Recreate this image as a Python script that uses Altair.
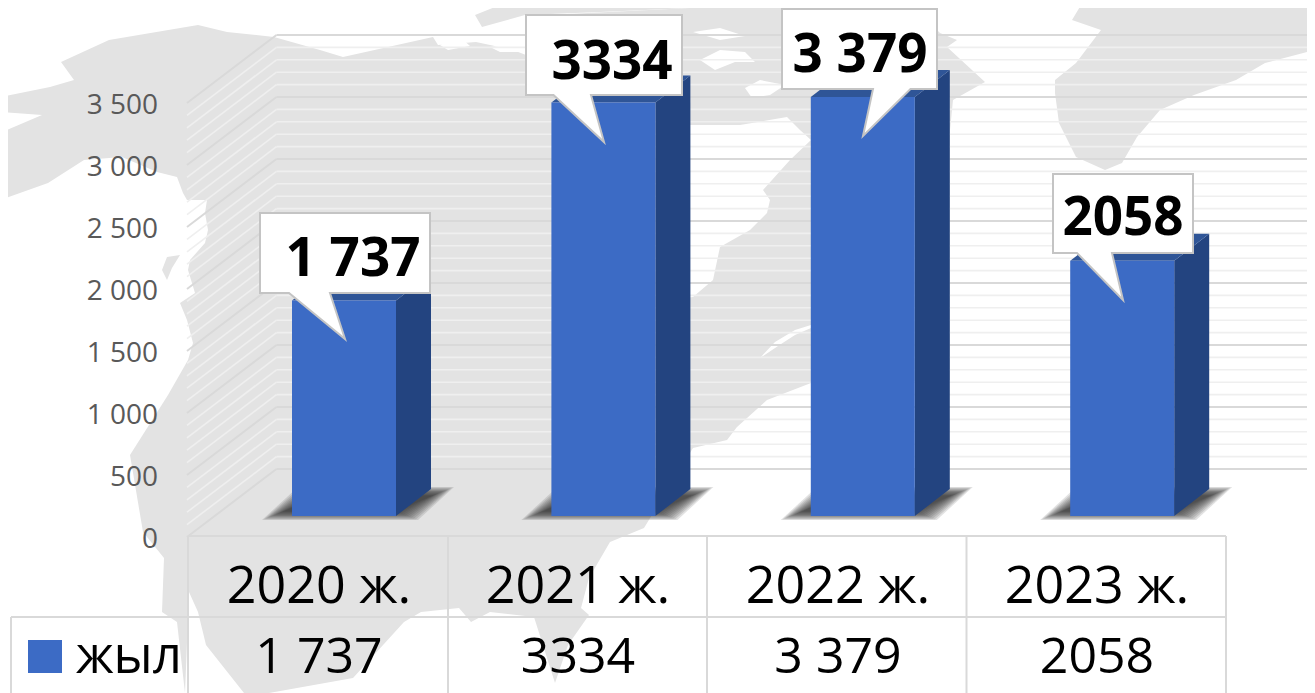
import altair as alt
import pandas as pd

years = ["2020 ж.", "2021 ж.", "2022 ж.", "2023 ж."]
values = [1737, 3334, 3379, 2058]
value_labels = ["1 737", "3334", "3 379", "2058"]
axis_values = [0, 500, 1000, 1500, 2000, 2500, 3000, 3500]
axis_labels = ["0", "500", "1 000", "1 500", "2 000", "2 500", "3 000", "3 500"]
minor_values = list(range(0, 3600, 100))

W, H = 1299, 685
SLOT, X0, UNIT, BASE = 259.4, 188.0, 0.124, 516.0


def U(px):
    return (px - X0) / SLOT


def V(py):
    return (BASE - py) / UNIT


xs = alt.Scale(domain=[U(8), U(8 + W)], range=[0, W], nice=False, zero=False)
ys = alt.Scale(domain=[V(8 + H), V(8)], range=[H, 0], nice=False, zero=False)
X = lambda f: alt.X(f, type="quantitative", scale=xs, axis=None, title=None)
X2 = lambda f: alt.X2(f)
Y = lambda f: alt.Y(f, type="quantitative", scale=ys, axis=None, title=None)
Y2 = lambda f: alt.Y2(f)

BAR_OFF, BAR_W = U(292), 104 / SLOT
DX, DV = 35 / SLOT, 27 / UNIT
BACK_DV, FRONT_DV = (BASE - 469) / UNIT, (BASE - 537) / UNIT
BACK_X, FRONT_X = U(276.5), U(187)

bars = pd.DataFrame({
    "x0": [BAR_OFF + i for i in range(4)],
    "x1": [BAR_OFF + i + BAR_W for i in range(4)],
    "v": values,
    "zero": [0] * 4,
})

side, top, shadow = [], [], []
SHADOW_STEPS = [5, 4, 3, 2, 1, 0, -1, -2, -3, -4, -5, -6]
for i, r in bars.iterrows():
    side += [
        {"b": i, "x": r.x1, "y": r.v, "y2": 0},
        {"b": i, "x": r.x1 + DX, "y": r.v + DV, "y2": DV},
    ]
    t = r.v
    top += [
        {"b": i, "x": r.x0, "y": t, "y2": t},
        {"b": i, "x": r.x0 + DX, "y": t + DV, "y2": t},
        {"b": i, "x": r.x1, "y": t + DV, "y2": t},
        {"b": i, "x": r.x1 + DX, "y": t + DV, "y2": t + DV},
    ]
    for lvl, g in enumerate(SHADOW_STEPS):
        lo, hi = V(516 + g * 0.8), V(491 - g * 0.8)
        left, right = r.x0 - (20 + g * 2) / SLOT, r.x1 + (12 + g * 2) / SLOT
        shift = 36 / SLOT
        shadow += [
            {"b": i, "l": lvl, "x": left, "y": lo, "y2": lo},
            {"b": i, "l": lvl, "x": left + shift, "y": hi, "y2": lo},
            {"b": i, "l": lvl, "x": right, "y": hi, "y2": lo},
            {"b": i, "l": lvl, "x": right + shift, "y": hi, "y2": hi},
        ]
side, top, shadow = pd.DataFrame(side), pd.DataFrame(top), pd.DataFrame(shadow)


def poly(pts):
    p = [[a - 8, b - 8] for a, b in pts]
    if p[0] != p[-1]:
        p.append(p[0])
    return {"type": "Feature", "properties": {}, "geometry": {"type": "Polygon", "coordinates": [p]}}


PROJ = dict(type="identity", scale=1, translate=[0, 0])

# background world-map silhouettes, in page pixels
map_main = [
    (0, 97), (50, 87), (74, 80), (61, 62), (109, 40), (198, 25), (227, 32), (274, 37), (320, 50), (343, 57),
    (433, 37), (438, 45), (476, 42), (513, 50), (526, 55), (526, 16), (690, 8), (720, 2), (823, 0), (907, 0),
    (940, 33), (957, 40), (947, 47), (985, 82), (953, 100), (950, 130), (950, 380), (811, 383), (767, 400), (737, 427),
    (727, 440), (693, 448), (644, 528), (610, 542), (589, 578), (581, 608), (589, 615), (568, 645), (555, 683), (534, 617),
    (490, 612), (471, 622), (459, 608), (421, 612), (404, 622), (353, 678),
    (269, 693), (244, 693), (206, 645), (198, 612), (189, 592), (185, 693), (177, 622), (162, 612), (164, 558), (143, 532),
    (130, 455), (168, 395), (188, 360), (193, 343), (187, 320), (180, 303), (195, 293), (188, 270), (190, 260), (205, 243),
    (208, 230), (205, 213), (207, 200), (187, 200), (183, 193), (177, 177), (157, 172),
    (122, 157), (84, 160), (48, 183), (0, 200), (0, 133), (42, 115), (0, 112),
]
map_top = [(475, 15), (505, 3), (588, 0), (680, 0), (690, 8), (600, 12), (525, 15), (482, 27)]
map_isle = [(162, 270), (167, 257), (180, 255), (172, 268), (167, 280)]
map_right = [
    (1084, 0), (1072, 20), (1101, 30), (1076, 63), (1055, 80), (1055, 93), (1059, 123), (1076, 157), (1105, 170), (1122, 163),
    (1137, 137), (1160, 110), (1194, 95), (1236, 80), (1265, 63), (1315, 50), (1315, 0),
]
sea = [
    (670, 125), (740, 125), (787, 117), (800, 130), (811, 140), (790, 160), (763, 190), (770, 200), (767, 213), (750, 230),
    (720, 247), (713, 280), (693, 297), (670, 300),
]
streaks = [
    [(760, 358), (775, 342), (795, 330), (811, 325), (811, 328), (795, 335), (778, 346)],
    [(700, 60), (720, 50), (745, 52), (755, 62), (735, 62), (715, 70)],
    [(745, 88), (760, 80), (785, 85), (770, 95), (752, 98)],
    [(693, 32), (720, 28), (745, 36), (720, 40)],
    [(440, 45), (460, 37), (470, 46), (448, 50)],
    [(490, 47), (525, 43), (525, 52), (500, 52)],
]
map_layer = alt.Chart(alt.Data(values=[poly(map_main), poly(map_top), poly(map_right), poly(map_isle)])).mark_geoshape(fill="#e3e3e3").project(**PROJ)
sea_layer = alt.Chart(alt.Data(values=[poly(sea)] + [poly(s) for s in streaks])).mark_geoshape(fill="white").project(**PROJ)

callouts = [
    [(260, 213), (430, 213), (430, 293), (330, 293), (345, 339), (289, 293), (260, 293)],
    [(526, 15), (682, 15), (682, 95), (591, 95), (604, 142), (553.5, 95), (526, 95)],
    [(782, 9), (937, 9), (937, 89), (910.5, 89), (863, 136), (873, 89), (782, 89)],
    [(1053, 174), (1193, 174), (1193, 253), (1112, 253), (1123, 300), (1077, 253), (1053, 253)],
]
call_layer = (
    alt.Chart(alt.Data(values=[poly(c) for c in callouts]))
    .mark_geoshape(fill="white", stroke="#c4c4c4", strokeWidth=2)
    .project(**PROJ)
)

# grids
grid = pd.DataFrame({"v": minor_values})
grid["major"] = grid.v % 500 == 0
grid["x0"], grid["x1"], grid["y"] = BACK_X, U(8 + W), grid.v + BACK_DV
wall = []
for v, mj in zip(grid.v, grid.major):
    wall += [
        {"v": v, "major": bool(mj), "x": FRONT_X, "y": v + FRONT_DV},
        {"v": v, "major": bool(mj), "x": BACK_X, "y": v + BACK_DV},
    ]
wall = pd.DataFrame(wall)


def grid_layers(flag, color, w):
    g = grid[grid.major == flag]
    l = wall[wall.major == flag]
    return [
        alt.Chart(g).mark_rule(color=color, strokeWidth=w).encode(x=X("x0"), x2=X2("x1"), y=Y("y")),
        alt.Chart(l).mark_line(color=color, strokeWidth=w).encode(x=X("x"), y=Y("y"), detail="v:N"),
    ]


# table
table_h = pd.DataFrame({"x0": [U(188), U(11)], "x1": [U(1226), U(1226)], "y": [V(536), V(617)]})
table_v = pd.DataFrame({
    "x": [U(188), U(448), U(707), U(966.5), U(1226), U(11)],
    "y0": [V(536)] * 5 + [V(617)],
    "y1": [V(693)] * 6,
})
TL = "#d9d9d9"
FONT = "Open Sans"

cols = pd.DataFrame({
    "x": [U(319), U(578), U(838), U(1097)],
    "year": years,
    "lab": value_labels,
    "yy": [V(587)] * 4,
    "yv": [V(658)] * 4,
})
ax_df = pd.DataFrame({"x": [U(158)] * 8, "y": [v + FRONT_DV - 2.5 / UNIT for v in axis_values], "t": axis_labels})
call_txt = pd.DataFrame({
    "x": [U(353), U(612), U(860), U(1123)],
    "y": [V(260), V(63), V(56), V(219)],
    "t": value_labels,
})
legend_sq = pd.DataFrame({"x0": [U(28)], "x1": [U(62)], "y0": [V(640)], "y1": [V(673)]})
legend_tx = pd.DataFrame({"x": [U(76)], "y": [V(658)], "t": ["жыл"]})

layers = [map_layer, sea_layer]
layers += grid_layers(False, "#efefef", 1.6)
layers += grid_layers(True, "#d9d9d9", 2)
for lvl in range(len(SHADOW_STEPS)):
    layers.append(
        alt.Chart(shadow[shadow.l == lvl]).mark_area(color="#333333", opacity=0.14)
        .encode(x=X("x"), y=Y("y"), y2=Y2("y2"), detail="b:N")
    )
layers += [
    alt.Chart(side).mark_area(color="#234480").encode(x=X("x"), y=Y("y"), y2=Y2("y2"), detail="b:N"),
    alt.Chart(top).mark_area(color="#2f5597").encode(x=X("x"), y=Y("y"), y2=Y2("y2"), detail="b:N"),
    alt.Chart(bars).mark_rect(color="#3c6bc5").encode(x=X("x0"), x2=X2("x1"), y=Y("v"), y2=Y2("zero")),
    call_layer,
    alt.Chart(table_h).mark_rule(color=TL, strokeWidth=2).encode(x=X("x0"), x2=X2("x1"), y=Y("y")),
    alt.Chart(table_v).mark_rule(color=TL, strokeWidth=2).encode(x=X("x"), y=Y("y0"), y2=Y2("y1")),
    alt.Chart(ax_df).mark_text(font=FONT, fontSize=28, color="#595959", align="right", baseline="middle")
    .encode(x=X("x"), y=Y("y"), text="t:N"),
    alt.Chart(call_txt).mark_text(font=FONT, fontSize=53, fontWeight="bold", color="black", align="center", baseline="middle")
    .encode(x=X("x"), y=Y("y"), text="t:N"),
    alt.Chart(cols).mark_text(font=FONT, fontSize=52, color="black", align="center", baseline="middle")
    .encode(x=X("x"), y=Y("yy"), text="year:N"),
    alt.Chart(cols).mark_text(font=FONT, fontSize=50, color="black", align="center", baseline="middle")
    .encode(x=X("x"), y=Y("yv"), text="lab:N"),
    alt.Chart(legend_sq).mark_rect(color="#3c6bc5").encode(x=X("x0"), x2=X2("x1"), y=Y("y0"), y2=Y2("y1")),
    alt.Chart(legend_tx).mark_text(font=FONT, fontSize=51, color="black", align="left", baseline="middle")
    .encode(x=X("x"), y=Y("y"), text="t:N"),
]

chart = (
    alt.layer(*layers)
    .properties(width=W, height=H, padding=0, autosize=alt.AutoSizeParams(type="none"), background="white")
    .configure_view(stroke=None)
)
chart.save("out.html", embed_options={"renderer": "svg", "actions": False})
